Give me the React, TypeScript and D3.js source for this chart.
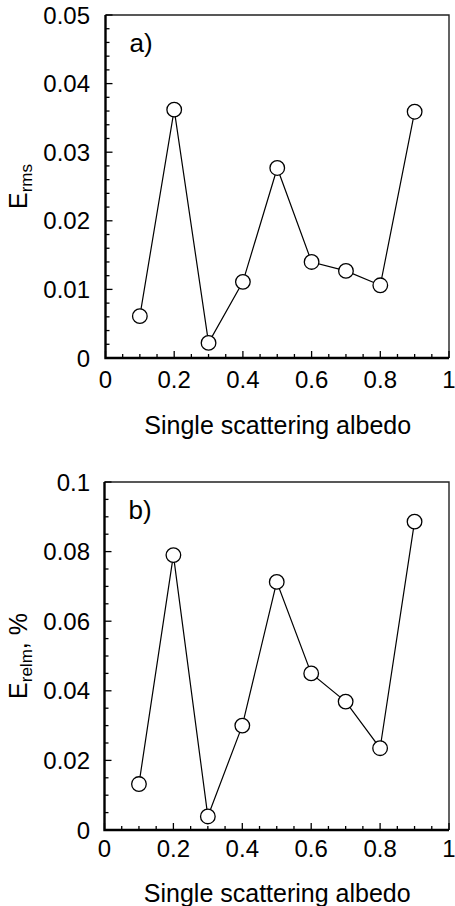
import { useEffect, useRef } from 'react';
import * as d3 from 'd3';

const ALBEDO = [0.1, 0.2, 0.3, 0.4, 0.5, 0.6, 0.7, 0.8, 0.9];
const E_RMS = [0.0061, 0.0362, 0.0022, 0.0111, 0.0277, 0.014, 0.0127, 0.0106, 0.0359];
const E_RELM = [0.0132, 0.079, 0.0039, 0.03, 0.0713, 0.045, 0.0369, 0.0235, 0.0886];

const X_TICKS = ['0', '0.2', '0.4', '0.6', '0.8', '1'];
const RMS_TICKS = ['0', '0.01', '0.02', '0.03', '0.04', '0.05'];
const RELM_TICKS = ['0', '0.02', '0.04', '0.06', '0.08', '0.1'];

const WIDTH = 455;
const HEIGHT = 906;
const FONT = 'Arial, "Liberation Sans", Helvetica, sans-serif';

// one panel per metric, stacked vertically
const PANELS = [
  {
    tag: 'a)',
    values: E_RMS,
    ticks: RMS_TICKS,
    yMax: 0.05,
    minorStep: 0.002,
    label: 'E',
    sub: 'rms',
    suffix: '',
    box: { left: 105.5, right: 449, top: 15, bottom: 358 },
    tickLabelDy: 30,
    titleDy: 76,
  },
  {
    tag: 'b)',
    values: E_RELM,
    ticks: RELM_TICKS,
    yMax: 0.1,
    minorStep: 0.005,
    label: 'E',
    sub: 'relm',
    suffix: ', %',
    box: { left: 104.5, right: 449, top: 482, bottom: 830 },
    tickLabelDy: 27,
    titleDy: 72,
  },
];

export default function App() {
  const svgRef = useRef<SVGSVGElement>(null);

  useEffect(() => {
    document.body.style.margin = '0';
    const svg = d3.select(svgRef.current);
    svg.selectAll('*').remove();
    svg.style('font-family', FONT);

    for (const p of PANELS) {
      const { box } = p;
      const x = d3.scaleLinear().domain([0, 1]).range([box.left, box.right]);
      const y = d3.scaleLinear().domain([0, p.yMax]).range([box.bottom, box.top]);
      const g = svg.append('g');

      // frame: thin top/right, heavier left/bottom
      g.append('path')
        .attr('d', `M${box.left},${box.top}H${box.right}V${box.bottom}`)
        .attr('fill', 'none')
        .attr('stroke', '#222')
        .attr('stroke-width', 1.4);
      g.append('path')
        .attr('d', `M${box.left},${box.top}V${box.bottom}H${box.right}`)
        .attr('fill', 'none')
        .attr('stroke', '#000')
        .attr('stroke-width', 2.4);

      // x ticks (inward), minor every 0.05
      const xMinor = d3.range(0, 1.0001, 0.05);
      g.selectAll('line.xt')
        .data(xMinor)
        .join('line')
        .attr('x1', (d) => x(d))
        .attr('x2', (d) => x(d))
        .attr('y1', box.bottom)
        .attr('y2', (d, i) => box.bottom - (i % 4 === 0 ? 7 : 4))
        .attr('stroke', '#000')
        .attr('stroke-width', 1.3);

      // y ticks
      const nMinor = Math.round(p.yMax / p.minorStep);
      const perMajor = Math.round(p.yMax / (p.ticks.length - 1) / p.minorStep);
      g.selectAll('line.yt')
        .data(d3.range(nMinor + 1))
        .join('line')
        .attr('x1', box.left)
        .attr('x2', (i) => box.left + (i % perMajor === 0 ? 7 : 4))
        .attr('y1', (i) => y(i * p.minorStep))
        .attr('y2', (i) => y(i * p.minorStep))
        .attr('stroke', '#000')
        .attr('stroke-width', 1.3);

      // tick labels
      g.selectAll('text.xl')
        .data(X_TICKS)
        .join('text')
        .attr('x', (d) => x(+d))
        .attr('y', box.bottom + p.tickLabelDy)
        .attr('text-anchor', 'middle')
        .style('font-size', '24px')
        .text((d) => d);

      g.selectAll('text.yl')
        .data(p.ticks)
        .join('text')
        .attr('x', 90)
        .attr('y', (d) => y(+d))
        .attr('dy', '0.36em')
        .attr('text-anchor', 'end')
        .style('font-size', '24px')
        .text((d) => d);

      // axis titles
      g.append('text')
        .attr('x', (box.left + box.right) / 2 + 0.5)
        .attr('y', box.bottom + p.titleDy)
        .attr('text-anchor', 'middle')
        .style('font-size', '25px')
        .text('Single scattering albedo');

      const cy = (box.top + box.bottom) / 2;
      const yTitle = g
        .append('text')
        .attr('transform', `translate(27,${cy}) rotate(-90)`)
        .attr('text-anchor', 'middle')
        .style('font-size', '25px');
      yTitle.append('tspan').text(p.label);
      yTitle.append('tspan').attr('dy', 5).style('font-size', '17px').text(p.sub);
      if (p.suffix) yTitle.append('tspan').attr('dy', -5).text(p.suffix);

      // panel tag
      g.append('text')
        .attr('x', box.left + 24)
        .attr('y', box.top + 37)
        .style('font-size', '26px')
        .text(p.tag);

      // series line + open circles
      const pts = ALBEDO.map((a, i) => [x(a), y(p.values[i])] as [number, number]);
      g.append('path')
        .attr('d', d3.line()(pts))
        .attr('fill', 'none')
        .attr('stroke', '#000')
        .attr('stroke-width', 1.2);
      g.selectAll('circle')
        .data(pts)
        .join('circle')
        .attr('cx', (d) => d[0])
        .attr('cy', (d) => d[1])
        .attr('r', 7.3)
        .attr('fill', '#fff')
        .attr('stroke', '#000')
        .attr('stroke-width', 1.3);
    }
  }, []);

  return <svg ref={svgRef} width={WIDTH} height={HEIGHT} style={{ display: 'block', background: '#fff' }} />;
}
